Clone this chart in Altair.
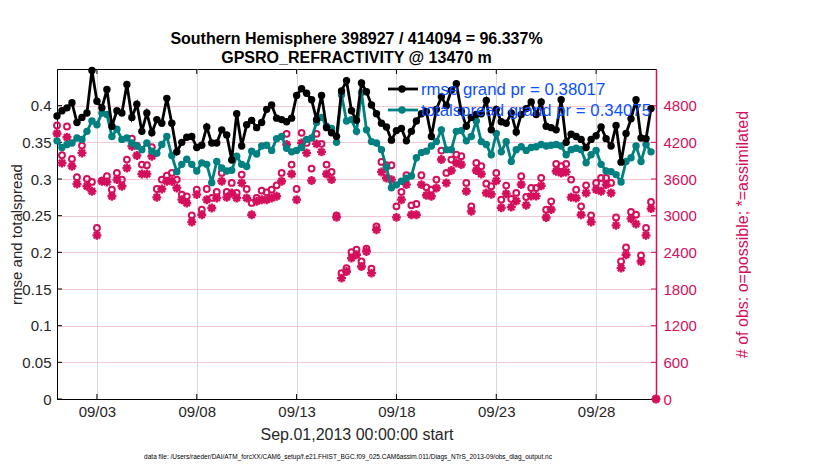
import altair as alt
import pandas as pd

title_lines = ["Southern Hemisphere 398927 / 414094 = 96.337%", "GPSRO_REFRACTIVITY @ 13470 m"]
legend_labels = ["rmse grand pr = 0.38017", "totalspread grand pr = 0.34075"]
x_title = "Sep.01,2013 00:00:00 start"
left_title = "rmse and totalspread"
right_title = "# of obs: o=possible; *=assimilated"
footer = "data file: /Users/raeder/DAI/ATM_forcXX/CAM6_setup/f.e21.FHIST_BGC.f09_025.CAM6assim.011/Diags_NTrS_2013-09/obs_diag_output.nc"

rmse = [0.386, 0.393, 0.397, 0.404, 0.377, 0.384, 0.390, 0.448, 0.406, 0.397,
        0.422, 0.372, 0.393, 0.390, 0.429, 0.384, 0.402, 0.365, 0.390, 0.363,
        0.381, 0.376, 0.410, 0.376, 0.337, 0.350, 0.357, 0.358, 0.343, 0.346,
        0.371, 0.349, 0.349, 0.367, 0.360, 0.326, 0.389, 0.345, 0.374, 0.380,
        0.370, 0.377, 0.395, 0.401, 0.383, 0.381, 0.378, 0.383, 0.414, 0.423,
        0.417, 0.408, 0.381, 0.414, 0.370, 0.363, 0.358, 0.420, 0.434, 0.393,
        0.380, 0.431, 0.419, 0.401, 0.389, 0.376, 0.371, 0.353, 0.366, 0.369,
        0.352, 0.365, 0.379, 0.389, 0.392, 0.358, 0.395, 0.412, 0.400, 0.421,
        0.430, 0.392, 0.372, 0.384, 0.388, 0.389, 0.407, 0.367, 0.395, 0.378,
        0.376, 0.390, 0.364, 0.388, 0.396, 0.405, 0.388, 0.405, 0.372, 0.370,
        0.367, 0.408, 0.350, 0.361, 0.358, 0.354, 0.343, 0.354, 0.359, 0.371,
        0.355, 0.345, 0.373, 0.323, 0.362, 0.382, 0.408, 0.356, 0.355, 0.396]

spread = [0.352, 0.343, 0.347, 0.349, 0.356, 0.354, 0.365, 0.379, 0.374, 0.390,
          0.388, 0.358, 0.368, 0.354, 0.356, 0.349, 0.345, 0.340, 0.349, 0.338,
          0.335, 0.347, 0.358, 0.332, 0.310, 0.320, 0.327, 0.320, 0.311, 0.322,
          0.320, 0.295, 0.324, 0.315, 0.311, 0.312, 0.331, 0.320, 0.317, 0.338,
          0.334, 0.345, 0.346, 0.339, 0.355, 0.358, 0.342, 0.337, 0.339, 0.343,
          0.354, 0.356, 0.377, 0.384, 0.372, 0.369, 0.350, 0.415, 0.379, 0.381,
          0.365, 0.418, 0.367, 0.351, 0.349, 0.340, 0.316, 0.288, 0.292, 0.297,
          0.301, 0.304, 0.329, 0.336, 0.338, 0.345, 0.351, 0.367, 0.340, 0.340,
          0.365, 0.366, 0.352, 0.358, 0.379, 0.351, 0.347, 0.333, 0.362, 0.337,
          0.351, 0.324, 0.340, 0.344, 0.339, 0.343, 0.344, 0.347, 0.345, 0.346,
          0.347, 0.345, 0.333, 0.340, 0.342, 0.340, 0.322, 0.333, 0.339, 0.320,
          0.311, 0.310, 0.306, 0.296, 0.324, 0.329, 0.345, 0.324, 0.347, 0.337]

possible = [4475, 3989, 4459, 3929, 3628, 4147, 3601, 3552, 2798, 3574,
            3645, 3426, 3699, 3590, 3918, 4262, 4147, 3836, 3825, 4120,
            3437, 3590, 3656, 3699, 3590, 3344, 3317, 3005, 3426, 3098,
            3437, 3290, 3388, 3699, 3388, 3536, 3372, 3672, 3437, 3208,
            3290, 3410, 3382, 3426, 3497, 3699, 4339, 3836, 3437, 4355,
            4191, 3770, 4339, 4175, 3836, 3716, 3005, 2060, 2142, 2404,
            2443, 2251, 2459, 2131, 2825, 3880, 3825, 3825, 3153, 3388,
            3661, 3169, 3191, 3661, 3464, 3426, 3590, 4065, 3699, 3918,
            4000, 3973, 3536, 3153, 3863, 3809, 3524, 3481, 3699, 3262,
            3492, 3273, 3372, 3645, 3306, 3453, 3453, 3617, 3098, 3235,
            3847, 3809, 3847, 3590, 3426, 3153, 3497, 3005, 3536, 3617,
            3617, 3536, 2972, 2251, 2481, 3060, 3016, 2350, 2798, 3224,
            0]

assimilated = [4344, 3863, 4284, 3809, 3519, 4027, 3481, 3399, 2678, 3563,
               3552, 3317, 3590, 3481, 3781, 4137, 3984, 3683, 3683, 3973,
               3300, 3437, 3563, 3563, 3453, 3262, 3208, 2896, 3344, 3016,
               3262, 3126, 3290, 3563, 3300, 3372, 3290, 3536, 3290, 3016,
               3235, 3262, 3262, 3290, 3317, 3563, 4164, 3683, 3262, 4191,
               4027, 3574, 4175, 4044, 3683, 3590, 2972, 1978, 2087, 2306,
               2361, 2169, 2415, 2060, 2770, 3716, 3617, 3590, 2972, 3262,
               3508, 3016, 3016, 3508, 3333, 3317, 3453, 3918, 3536, 3738,
               3863, 3836, 3399, 3071, 3738, 3683, 3372, 3350, 3570, 3130,
               3360, 3140, 3240, 3510, 3170, 3320, 3320, 3490, 2970, 3100,
               3727, 3699, 3716, 3300, 3290, 3016, 3372, 2896, 3426, 3399,
               3508, 3372, 2841, 2142, 2361, 2951, 2863, 2251, 2678, 3115,
               0]

tick_days = [3, 8, 13, 18, 23, 28]
left_ticks = [0, 0.05, 0.1, 0.15, 0.2, 0.25, 0.3, 0.35, 0.4]
right_ticks = [0, 600, 1200, 1800, 2400, 3000, 3600, 4200, 4800]

BLACK = "#000000"
TEAL = "#008080"
MAG = "#d40f5b"
BLUE = "#0a50ff"
TXT = "#262626"
FONT = "Liberation Sans"

times = pd.date_range("2013-09-01 00:00", periods=len(rmse), freq="6h")
ctimes = pd.date_range("2013-09-01 00:00", periods=len(possible), freq="6h")
df = pd.DataFrame({"t": times, "rmse": rmse, "spread": spread})
dfc = pd.DataFrame({"t": ctimes, "possible": possible, "assimilated": assimilated})
dft = pd.DataFrame({"t": [pd.Timestamp(2013, 9, d) for d in tick_days]})
dfl = pd.DataFrame({"v": left_ticks})
dfr = pd.DataFrame({"v": right_ticks})

xaxis = alt.Axis(values=[alt.DateTime(year=2013, month=9, date=d) for d in tick_days],
                 format="%m/%d", title=x_title, grid=True, gridColor="#dadada",
                 gridWidth=1, tickSize=0, labelPadding=5, domainColor=BLACK,
                 labelFontSize=15, titleFontSize=16, titleFontWeight="normal",
                 titlePadding=7, labelColor=TXT, titleColor=TXT)
xscale = alt.Scale(domain=[alt.DateTime(year=2013, month=9, date=1),
                           alt.DateTime(year=2013, month=10, date=1)])


def X():
    return alt.X("t:T", scale=xscale, axis=xaxis)


laxis = alt.Axis(orient="left", values=left_ticks, format="~g", title=left_title,
                 grid=True, gridColor="#f4c7d6", gridWidth=1, tickSize=0,
                 labelPadding=6, domainColor=BLACK, labelFontSize=15, titleFontSize=15,
                 titleFontWeight="normal", labelColor=TXT, titleColor=TXT,
                 titleAngle=270, titleX=-41, titleY=165, titleAlign="center",
                 titleBaseline="middle")
lscale = alt.Scale(domain=[0, 0.45], nice=False, zero=True)

raxis = alt.Axis(orient="right", values=right_ticks, format="d", title=right_title,
                 grid=False, tickSize=0, labelPadding=7, domainColor=MAG,
                 domainWidth=1.5, labelFontSize=15, titleFontSize=16,
                 titleFontWeight="normal", labelColor=MAG, titleColor=MAG,
                 titleAngle=270, titleX=86, titleY=165, titleAlign="center",
                 titleBaseline="middle")
rscale = alt.Scale(domain=[0, 5400], nice=False, zero=True)


def YL(f):
    return alt.Y(f, scale=lscale, axis=laxis)


def YR(f):
    return alt.Y(f, scale=rscale, axis=raxis)


base = alt.Chart(df)
black_line = base.mark_line(color=BLACK, strokeWidth=2.8).encode(x=X(), y=YL("rmse:Q"))
black_pts = base.mark_point(color=BLACK, filled=True, opacity=1, size=55, shape="circle").encode(x=X(), y=YL("rmse:Q"))
teal_line = base.mark_line(color=TEAL, strokeWidth=2.8).encode(x=X(), y=YL("spread:Q"))
teal_pts = base.mark_point(color=TEAL, filled=True, opacity=1, size=55, shape="circle").encode(x=X(), y=YL("spread:Q"))
lt1 = alt.Chart(dfl).mark_rule(color=BLACK, strokeWidth=1).encode(y=YL("v:Q"), x=alt.value(0), x2=alt.value(5))

star = "M0,-1L0,1M-1,0L1,0M-0.7,-0.7L0.7,0.7M-0.7,0.7L0.7,-0.7"
cbase = alt.Chart(dfc)
circ = cbase.mark_point(shape="circle", filled=False, color=MAG, strokeWidth=2, size=34, opacity=1).encode(x=X(), y=YR("possible:Q"))
ast = cbase.mark_point(shape=star, filled=False, color=MAG, strokeWidth=2.4, size=80, opacity=1).encode(x=X(), y=YR("assimilated:Q"))
rt = alt.Chart(dfr).mark_rule(color=MAG, strokeWidth=1).encode(y=YR("v:Q"), x=alt.value(594), x2=alt.value(599))

xt_bot = alt.Chart(dft).mark_rule(color=BLACK, strokeWidth=1).encode(x=X(), y=alt.value(325), y2=alt.value(330))
xt_top = alt.Chart(dft).mark_rule(color=BLACK, strokeWidth=1).encode(x=X(), y=alt.value(0), y2=alt.value(5))

left = alt.layer(lt1, teal_line, teal_pts, black_line, black_pts)
right = alt.layer(circ, ast, rt)

leg_src = alt.Chart(pd.DataFrame({"k": [0]}))
leg = []
for row, (lab, col) in enumerate(zip(legend_labels, [BLACK, TEAL])):
    yy = 20 + row * 21
    leg.append(leg_src.mark_rule(color=col, strokeWidth=2.8).encode(x=alt.value(331), x2=alt.value(361), y=alt.value(yy)))
    leg.append(leg_src.mark_point(color=col, filled=True, opacity=1, size=55, shape="circle").encode(x=alt.value(345), y=alt.value(yy)))
    leg.append(leg_src.mark_text(text=lab, color=BLUE, fontSize=16.8, align="left", baseline="middle", font=FONT).encode(x=alt.value(364), y=alt.value(yy + 1)))

foot = leg_src.mark_text(text=footer, color=BLACK, fontSize=6.5, align="center", baseline="middle", font=FONT).encode(x=alt.value(291), y=alt.value(388))

chart = alt.layer(right, left, xt_bot, xt_top, *leg, foot).resolve_scale(y="independent").properties(
    width=599, height=330,
    title=alt.TitleParams(text=title_lines, fontSize=16, fontWeight="bold", anchor="middle",
                          offset=-1, lineHeight=19, color=BLACK, font=FONT),
    autosize=alt.AutoSizeParams(type="none"),
    padding={"left": 49, "top": 61, "right": 150, "bottom": 62},
).configure(font=FONT).configure_view(stroke=BLACK, strokeWidth=1)

chart.save("out.html", embed_options={"renderer": "svg", "actions": False})
